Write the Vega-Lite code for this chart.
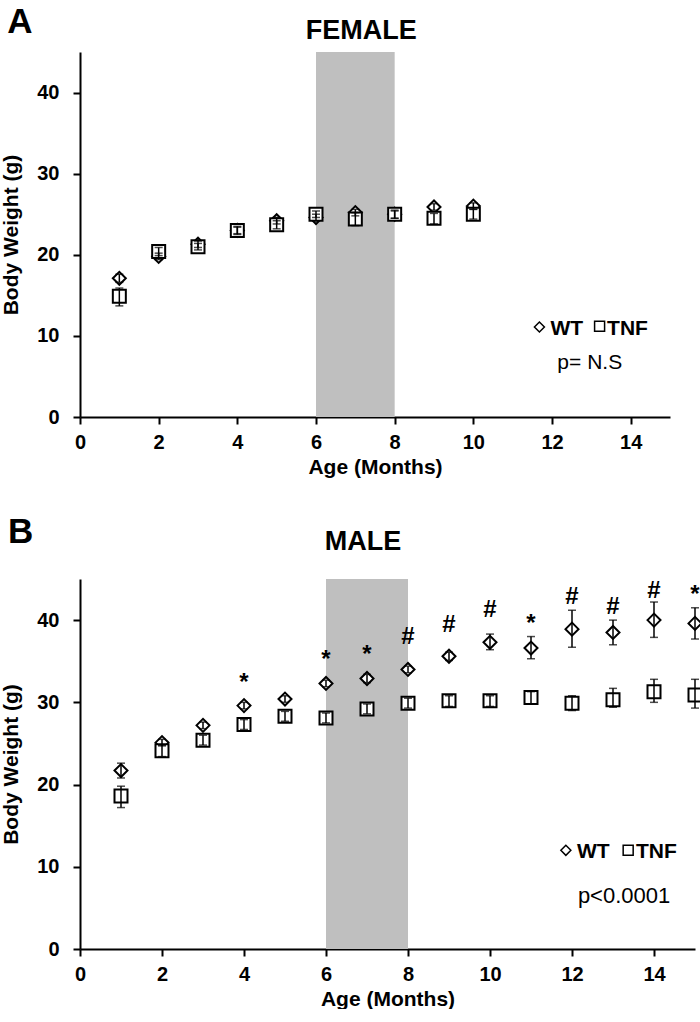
{
  "$schema": "https://vega.github.io/schema/vega-lite/v6.json",
  "padding": {"left": 0, "top": 4, "right": 0, "bottom": 0},
  "background": "white",
  "spacing": 38,
  "config": {
    "font": "Liberation Sans",
    "view": {"stroke": null},
    "axis": {
      "grid": false,
      "domainColor": "black",
      "domainWidth": 2,
      "tickColor": "black",
      "tickWidth": 2,
      "tickSize": 7,
      "labelFont": "Liberation Sans",
      "labelFontSize": 20,
      "labelFontWeight": "bold",
      "labelColor": "black",
      "titleFont": "Liberation Sans",
      "titleFontSize": 21,
      "titleFontWeight": "bold",
      "titleColor": "black"
    },
    "axisX": {"tickCount": 8, "labelPadding": 8, "titlePadding": 4, "labelFlush": false},
    "axisY": {"tickCount": 5, "labelPadding": 14, "titlePadding": 15}
  },
  "datasets": {
    "female": [
      {"x": 1, "group": "WT", "mean": 17.1, "lo": 16.6, "hi": 17.6},
      {"x": 2, "group": "WT", "mean": 19.8, "lo": 19.4, "hi": 20.2},
      {"x": 3, "group": "WT", "mean": 21.3, "lo": 20.9, "hi": 21.7},
      {"x": 4, "group": "WT", "mean": 23.0, "lo": 22.6, "hi": 23.4},
      {"x": 5, "group": "WT", "mean": 24.2, "lo": 23.8, "hi": 24.6},
      {"x": 6, "group": "WT", "mean": 24.6, "lo": 24.2, "hi": 25.0},
      {"x": 7, "group": "WT", "mean": 25.2, "lo": 24.8, "hi": 25.6},
      {"x": 8, "group": "WT", "mean": 25.0, "lo": 24.5, "hi": 25.4},
      {"x": 9, "group": "WT", "mean": 25.9, "lo": 25.5, "hi": 26.3},
      {"x": 10, "group": "WT", "mean": 26.0, "lo": 25.6, "hi": 26.4},
      {"x": 1, "group": "TNF", "mean": 14.9, "lo": 13.7, "hi": 15.9},
      {"x": 2, "group": "TNF", "mean": 20.4, "lo": 19.9, "hi": 20.9},
      {"x": 3, "group": "TNF", "mean": 21.0, "lo": 20.6, "hi": 21.4},
      {"x": 4, "group": "TNF", "mean": 23.0, "lo": 22.5, "hi": 23.5},
      {"x": 5, "group": "TNF", "mean": 23.7, "lo": 23.2, "hi": 24.2},
      {"x": 6, "group": "TNF", "mean": 25.0, "lo": 24.6, "hi": 25.4},
      {"x": 7, "group": "TNF", "mean": 24.4, "lo": 23.6, "hi": 25.2},
      {"x": 8, "group": "TNF", "mean": 25.0, "lo": 24.5, "hi": 25.5},
      {"x": 9, "group": "TNF", "mean": 24.5, "lo": 23.8, "hi": 25.1},
      {"x": 10, "group": "TNF", "mean": 25.0, "lo": 24.4, "hi": 25.6}
    ],
    "male": [
      {"x": 1, "group": "WT", "mean": 21.7, "lo": 20.8, "hi": 22.6},
      {"x": 2, "group": "WT", "mean": 25.1, "lo": 24.7, "hi": 25.5},
      {"x": 3, "group": "WT", "mean": 27.2, "lo": 26.8, "hi": 27.6},
      {"x": 4, "group": "WT", "mean": 29.6, "lo": 29.2, "hi": 30.0},
      {"x": 5, "group": "WT", "mean": 30.4, "lo": 30.0, "hi": 30.8},
      {"x": 6, "group": "WT", "mean": 32.3, "lo": 31.9, "hi": 32.7},
      {"x": 7, "group": "WT", "mean": 32.9, "lo": 32.4, "hi": 33.4},
      {"x": 8, "group": "WT", "mean": 34.0, "lo": 33.6, "hi": 34.4},
      {"x": 9, "group": "WT", "mean": 35.6, "lo": 35.1, "hi": 36.1},
      {"x": 10, "group": "WT", "mean": 37.3, "lo": 36.4, "hi": 38.3},
      {"x": 11, "group": "WT", "mean": 36.6, "lo": 35.3, "hi": 38.0},
      {"x": 12, "group": "WT", "mean": 38.9, "lo": 36.7, "hi": 41.2},
      {"x": 13, "group": "WT", "mean": 38.5, "lo": 37.0, "hi": 40.0},
      {"x": 14, "group": "WT", "mean": 40.0, "lo": 37.9, "hi": 42.2},
      {"x": 15, "group": "WT", "mean": 39.6, "lo": 37.7, "hi": 41.5},
      {"x": 1, "group": "TNF", "mean": 18.6, "lo": 17.2, "hi": 19.8},
      {"x": 2, "group": "TNF", "mean": 24.1, "lo": 23.4, "hi": 24.8},
      {"x": 3, "group": "TNF", "mean": 25.4, "lo": 24.8, "hi": 26.0},
      {"x": 4, "group": "TNF", "mean": 27.3, "lo": 26.7, "hi": 27.9},
      {"x": 5, "group": "TNF", "mean": 28.3, "lo": 27.7, "hi": 28.9},
      {"x": 6, "group": "TNF", "mean": 28.1, "lo": 27.5, "hi": 28.7},
      {"x": 7, "group": "TNF", "mean": 29.2, "lo": 28.6, "hi": 29.8},
      {"x": 8, "group": "TNF", "mean": 29.9, "lo": 29.3, "hi": 30.5},
      {"x": 9, "group": "TNF", "mean": 30.2, "lo": 29.5, "hi": 30.8},
      {"x": 10, "group": "TNF", "mean": 30.2, "lo": 29.5, "hi": 30.8},
      {"x": 11, "group": "TNF", "mean": 30.6, "lo": 29.8, "hi": 31.3},
      {"x": 12, "group": "TNF", "mean": 29.9, "lo": 29.0, "hi": 30.8},
      {"x": 13, "group": "TNF", "mean": 30.3, "lo": 29.4, "hi": 31.7},
      {"x": 14, "group": "TNF", "mean": 31.3, "lo": 30.0, "hi": 32.8},
      {"x": 15, "group": "TNF", "mean": 30.9, "lo": 29.3, "hi": 32.8}
    ],
    "sigMale": [
      {"x": 4, "y": 32.4, "t": "*"},
      {"x": 6, "y": 35.1, "t": "*"},
      {"x": 7, "y": 35.8, "t": "*"},
      {"x": 8, "y": 38.0, "t": "#"},
      {"x": 9, "y": 39.4, "t": "#"},
      {"x": 10, "y": 41.2, "t": "#"},
      {"x": 11, "y": 39.5, "t": "*"},
      {"x": 12, "y": 42.8, "t": "#"},
      {"x": 13, "y": 41.6, "t": "#"},
      {"x": 14, "y": 43.6, "t": "#"},
      {"x": 15, "y": 43.0, "t": "*"}
    ]
  },
  "vconcat": [
    {
      "width": 590,
      "height": 365,
      "layer": [
        {
          "data": {"values": [{"x": 6, "x2": 8}]},
          "mark": {"type": "rect", "color": "#bfbfbf"},
          "encoding": {
            "x": {"field": "x", "type": "quantitative", "scale": {"domain": [0, 15], "nice": false}, "title": "Age (Months)"},
            "x2": {"field": "x2"}
          }
        },
        {
          "data": {"name": "female"},
          "mark": {"type": "point", "filled": false, "fill": "white", "fillOpacity": 1, "stroke": "black", "strokeWidth": 2, "size": 169, "opacity": 1},
          "encoding": {
            "x": {"field": "x", "type": "quantitative", "scale": {"domain": [0, 15], "nice": false}, "title": "Age (Months)"},
            "y": {"field": "mean", "type": "quantitative", "scale": {"domain": [0, 45], "nice": false}, "title": "Body Weight (g)"},
            "shape": {"field": "group", "type": "nominal", "scale": {"domain": ["WT", "TNF"], "range": ["diamond", "square"]}, "legend": null}
          }
        },
        {
          "data": {"name": "female"},
          "mark": {"type": "errorbar", "color": "black", "thickness": 1.5, "ticks": {"size": 8}},
          "encoding": {
            "x": {"field": "x", "type": "quantitative", "scale": {"domain": [0, 15], "nice": false}, "title": "Age (Months)"},
            "y": {"field": "lo", "type": "quantitative", "scale": {"domain": [0, 45], "nice": false}, "title": "Body Weight (g)"},
            "y2": {"field": "hi"}
          }
        },
        {
          "data": {"values": [{"x": 11.68, "y": 11.1, "g": "WT"}, {"x": 13.21, "y": 11.2, "g": "TNF"}]},
          "mark": {"type": "point", "filled": false, "stroke": "black", "strokeWidth": 1.5, "size": 100, "opacity": 1},
          "encoding": {
            "x": {"field": "x", "type": "quantitative", "scale": {"domain": [0, 15], "nice": false}, "title": "Age (Months)"},
            "y": {"field": "y", "type": "quantitative", "scale": {"domain": [0, 45], "nice": false}, "title": "Body Weight (g)"},
            "shape": {"field": "g", "type": "nominal", "scale": {"domain": ["WT", "TNF"], "range": ["diamond", "square"]}, "legend": null}
          }
        },
        {
          "data": {"values": [{"x": 11.96, "y": 10.9, "t": "WT"}, {"x": 13.4, "y": 10.9, "t": "TNF"}]},
          "mark": {"type": "text", "align": "left", "baseline": "middle", "fontSize": 21, "fontWeight": "bold", "color": "black"},
          "encoding": {
            "x": {"field": "x", "type": "quantitative", "scale": {"domain": [0, 15], "nice": false}, "title": "Age (Months)"},
            "y": {"field": "y", "type": "quantitative", "scale": {"domain": [0, 45], "nice": false}, "title": "Body Weight (g)"},
            "text": {"field": "t"}
          }
        },
        {
          "data": {"values": [{"x": 12.96, "y": 6.6, "t": "p= N.S"}]},
          "mark": {"type": "text", "align": "center", "baseline": "middle", "fontSize": 21, "color": "black"},
          "encoding": {
            "x": {"field": "x", "type": "quantitative", "scale": {"domain": [0, 15], "nice": false}, "title": "Age (Months)"},
            "y": {"field": "y", "type": "quantitative", "scale": {"domain": [0, 45], "nice": false}, "title": "Body Weight (g)"},
            "text": {"field": "t"}
          }
        },
        {
          "data": {"values": [{"x": 7.15, "y": 47.6, "t": "FEMALE"}]},
          "mark": {"type": "text", "align": "center", "baseline": "middle", "fontSize": 27, "fontWeight": "bold", "color": "black"},
          "encoding": {
            "x": {"field": "x", "type": "quantitative", "scale": {"domain": [0, 15], "nice": false}, "title": "Age (Months)"},
            "y": {"field": "y", "type": "quantitative", "scale": {"domain": [0, 45], "nice": false}, "title": "Body Weight (g)"},
            "text": {"field": "t"}
          }
        },
        {
          "data": {"values": [{"x": -1.53, "y": 48.7, "t": "A"}]},
          "mark": {"type": "text", "align": "center", "baseline": "middle", "fontSize": 35, "fontWeight": "bold", "color": "black"},
          "encoding": {
            "x": {"field": "x", "type": "quantitative", "scale": {"domain": [0, 15], "nice": false}, "title": "Age (Months)"},
            "y": {"field": "y", "type": "quantitative", "scale": {"domain": [0, 45], "nice": false}, "title": "Body Weight (g)"},
            "text": {"field": "t"}
          }
        }
      ]
    },
    {
      "width": 615,
      "height": 370,
      "layer": [
        {
          "data": {"values": [{"x": 6, "x2": 8}]},
          "mark": {"type": "rect", "color": "#bfbfbf"},
          "encoding": {
            "x": {"field": "x", "type": "quantitative", "scale": {"domain": [0, 15], "nice": false}, "title": "Age (Months)"},
            "x2": {"field": "x2"}
          }
        },
        {
          "data": {"name": "male"},
          "mark": {"type": "point", "filled": false, "fill": "white", "fillOpacity": 1, "stroke": "black", "strokeWidth": 2, "size": 169, "opacity": 1},
          "encoding": {
            "x": {"field": "x", "type": "quantitative", "scale": {"domain": [0, 15], "nice": false}, "title": "Age (Months)"},
            "y": {"field": "mean", "type": "quantitative", "scale": {"domain": [0, 45], "nice": false}, "title": "Body Weight (g)"},
            "shape": {"field": "group", "type": "nominal", "scale": {"domain": ["WT", "TNF"], "range": ["diamond", "square"]}, "legend": null}
          }
        },
        {
          "data": {"name": "male"},
          "mark": {"type": "errorbar", "color": "black", "thickness": 1.5, "ticks": {"size": 8}},
          "encoding": {
            "x": {"field": "x", "type": "quantitative", "scale": {"domain": [0, 15], "nice": false}, "title": "Age (Months)"},
            "y": {"field": "lo", "type": "quantitative", "scale": {"domain": [0, 45], "nice": false}, "title": "Body Weight (g)"},
            "y2": {"field": "hi"}
          }
        },
        {
          "data": {"name": "sigMale"},
          "mark": {"type": "text", "align": "center", "baseline": "middle", "fontSize": 24, "fontWeight": "bold", "color": "black"},
          "encoding": {
            "x": {"field": "x", "type": "quantitative", "scale": {"domain": [0, 15], "nice": false}, "title": "Age (Months)"},
            "y": {"field": "y", "type": "quantitative", "scale": {"domain": [0, 45], "nice": false}, "title": "Body Weight (g)"},
            "text": {"field": "t"}
          }
        },
        {
          "data": {"values": [{"x": 11.85, "y": 12.0, "g": "WT"}, {"x": 13.37, "y": 12.0, "g": "TNF"}]},
          "mark": {"type": "point", "filled": false, "stroke": "black", "strokeWidth": 1.5, "size": 100, "opacity": 1},
          "encoding": {
            "x": {"field": "x", "type": "quantitative", "scale": {"domain": [0, 15], "nice": false}, "title": "Age (Months)"},
            "y": {"field": "y", "type": "quantitative", "scale": {"domain": [0, 45], "nice": false}, "title": "Body Weight (g)"},
            "shape": {"field": "g", "type": "nominal", "scale": {"domain": ["WT", "TNF"], "range": ["diamond", "square"]}, "legend": null}
          }
        },
        {
          "data": {"values": [{"x": 12.12, "y": 11.8, "t": "WT"}, {"x": 13.56, "y": 11.8, "t": "TNF"}]},
          "mark": {"type": "text", "align": "left", "baseline": "middle", "fontSize": 21, "fontWeight": "bold", "color": "black"},
          "encoding": {
            "x": {"field": "x", "type": "quantitative", "scale": {"domain": [0, 15], "nice": false}, "title": "Age (Months)"},
            "y": {"field": "y", "type": "quantitative", "scale": {"domain": [0, 45], "nice": false}, "title": "Body Weight (g)"},
            "text": {"field": "t"}
          }
        },
        {
          "data": {"values": [{"x": 13.27, "y": 6.5, "t": "p<0.0001"}]},
          "mark": {"type": "text", "align": "center", "baseline": "middle", "fontSize": 22, "color": "black"},
          "encoding": {
            "x": {"field": "x", "type": "quantitative", "scale": {"domain": [0, 15], "nice": false}, "title": "Age (Months)"},
            "y": {"field": "y", "type": "quantitative", "scale": {"domain": [0, 45], "nice": false}, "title": "Body Weight (g)"},
            "text": {"field": "t"}
          }
        },
        {
          "data": {"values": [{"x": 6.9, "y": 49.5, "t": "MALE"}]},
          "mark": {"type": "text", "align": "center", "baseline": "middle", "fontSize": 27, "fontWeight": "bold", "color": "black"},
          "encoding": {
            "x": {"field": "x", "type": "quantitative", "scale": {"domain": [0, 15], "nice": false}, "title": "Age (Months)"},
            "y": {"field": "y", "type": "quantitative", "scale": {"domain": [0, 45], "nice": false}, "title": "Body Weight (g)"},
            "text": {"field": "t"}
          }
        },
        {
          "data": {"values": [{"x": -1.45, "y": 50.7, "t": "B"}]},
          "mark": {"type": "text", "align": "center", "baseline": "middle", "fontSize": 35, "fontWeight": "bold", "color": "black"},
          "encoding": {
            "x": {"field": "x", "type": "quantitative", "scale": {"domain": [0, 15], "nice": false}, "title": "Age (Months)"},
            "y": {"field": "y", "type": "quantitative", "scale": {"domain": [0, 45], "nice": false}, "title": "Body Weight (g)"},
            "text": {"field": "t"}
          }
        }
      ]
    }
  ]
}
